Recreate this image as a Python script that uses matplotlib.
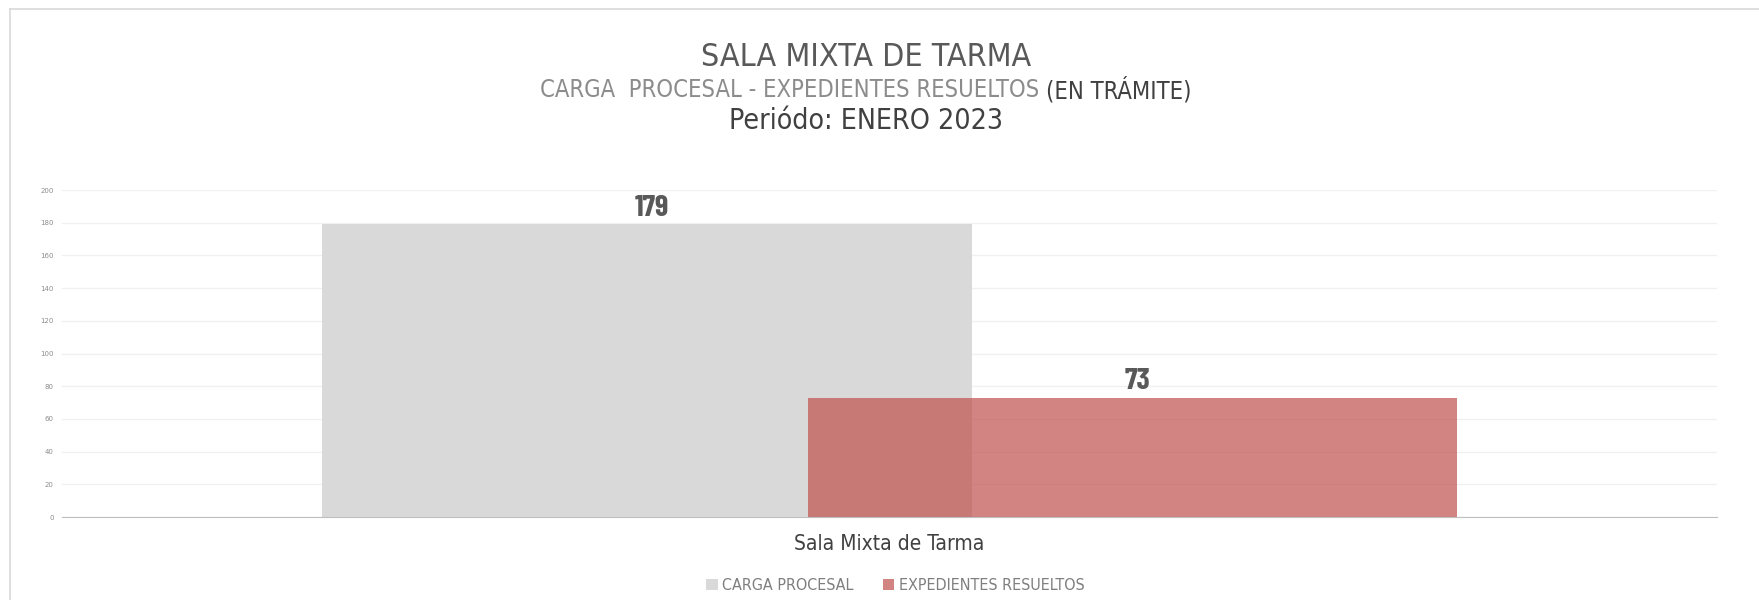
import numpy as np
import matplotlib
matplotlib.use('Agg')
import matplotlib.pyplot as plt
from matplotlib.lines import Line2D
from matplotlib.patches import Patch

categorias = ['Sala Mixta de Tarma']
carga_procesal = [179]
expedientes_resueltos = [73]
series_names = ['CARGA PROCESAL', 'EXPEDIENTES RESUELTOS']
y_ticks = list(range(0, 201, 20))

color_carga = '#D9D9D9'
color_resueltos = '#C0504D'
narrow = ['Liberation Sans Narrow', 'Barlow Condensed', 'DejaVu Sans']

fig = plt.figure(figsize=(17.59, 6.0), dpi=100)
ax = fig.add_axes([0.03525, 0.1383, 0.9409, 0.545])

x = np.arange(len(categorias))
bar_w = 0.3927
off = 0.1468

b1 = ax.bar(x - off, carga_procesal, bar_w, color=color_carga, zorder=2)
b2 = ax.bar(x + off, expedientes_resueltos, bar_w, color=color_resueltos, alpha=0.7, zorder=3)

for bars in (b1, b2):
    for r in bars:
        ax.text(r.get_x() + r.get_width() / 2 + 0.003, r.get_height() + 5, str(int(r.get_height())),
                ha='center', va='baseline', fontsize=22, fontweight='bold', color='#595959',
                family=narrow, fontstretch='condensed')

ax.set_xlim(-0.5, 0.5)
ax.set_ylim(0, 200)
ax.set_yticks(y_ticks)
ax.set_yticklabels([str(v) for v in y_ticks], fontsize=5, color='#8C8C8C')
ax.set_xticks(x)
ax.set_xticklabels(categorias, fontsize=15, color='#404040', fontstretch='condensed')
ax.tick_params(axis='both', length=0)
ax.tick_params(axis='y', pad=6)
ax.tick_params(axis='x', pad=12)
ax.grid(axis='y', color='#F0F0F0', linewidth=1, zorder=0)
for s in ['top', 'right', 'left']:
    ax.spines[s].set_visible(False)
ax.spines['bottom'].set_color('#BFBFBF')

# titles
xc = 866 / 1759
fig.text(xc, 0.905, 'SALA MIXTA DE TARMA', ha='center', va='center',
         fontsize=23, color='#595959', fontstretch='condensed')
sub1 = fig.text(0, 0.85, 'CARGA  PROCESAL - EXPEDIENTES RESUELTOS ', ha='left', va='center',
                fontsize=17, color='#8C8C8C', fontstretch='condensed', fontweight='light')
sub2 = fig.text(0, 0.85, '(EN TRÁMITE)', ha='left', va='center', fontsize=17,
                color='#404040', fontstretch='condensed')
fig.text(xc, 0.798, 'Periódo: ENERO 2023', ha='center', va='center',
         fontsize=20.4, color='#404040', fontstretch='condensed')

fig.canvas.draw()
rend = fig.canvas.get_renderer()
w1 = sub1.get_window_extent(rend).width / fig.bbox.width
w2 = sub2.get_window_extent(rend).width / fig.bbox.width
start = xc - (w1 + w2) / 2
sub1.set_x(start)
sub2.set_x(start + w1)

# legend
handles = [Patch(facecolor=color_carga, edgecolor='none'),
           Patch(facecolor=color_resueltos, edgecolor='none', alpha=0.7)]
fig.legend(handles, series_names, loc='center', bbox_to_anchor=(0.509, 0.024), ncol=2,
           frameon=False, prop=dict(size=11.5, stretch='condensed'), labelcolor='#7F7F7F',
           handlelength=0.7, handleheight=0.7, handletextpad=0.3, columnspacing=1.8)

# outer border
fig.add_artist(Line2D([10 / 1759, 1.0], [1 - 9 / 600, 1 - 9 / 600], color='#D9D9D9', lw=1.2))
fig.add_artist(Line2D([10 / 1759, 10 / 1759], [0, 1 - 9 / 600], color='#D9D9D9', lw=1.2))

fig.savefig('out.png', dpi=100)
